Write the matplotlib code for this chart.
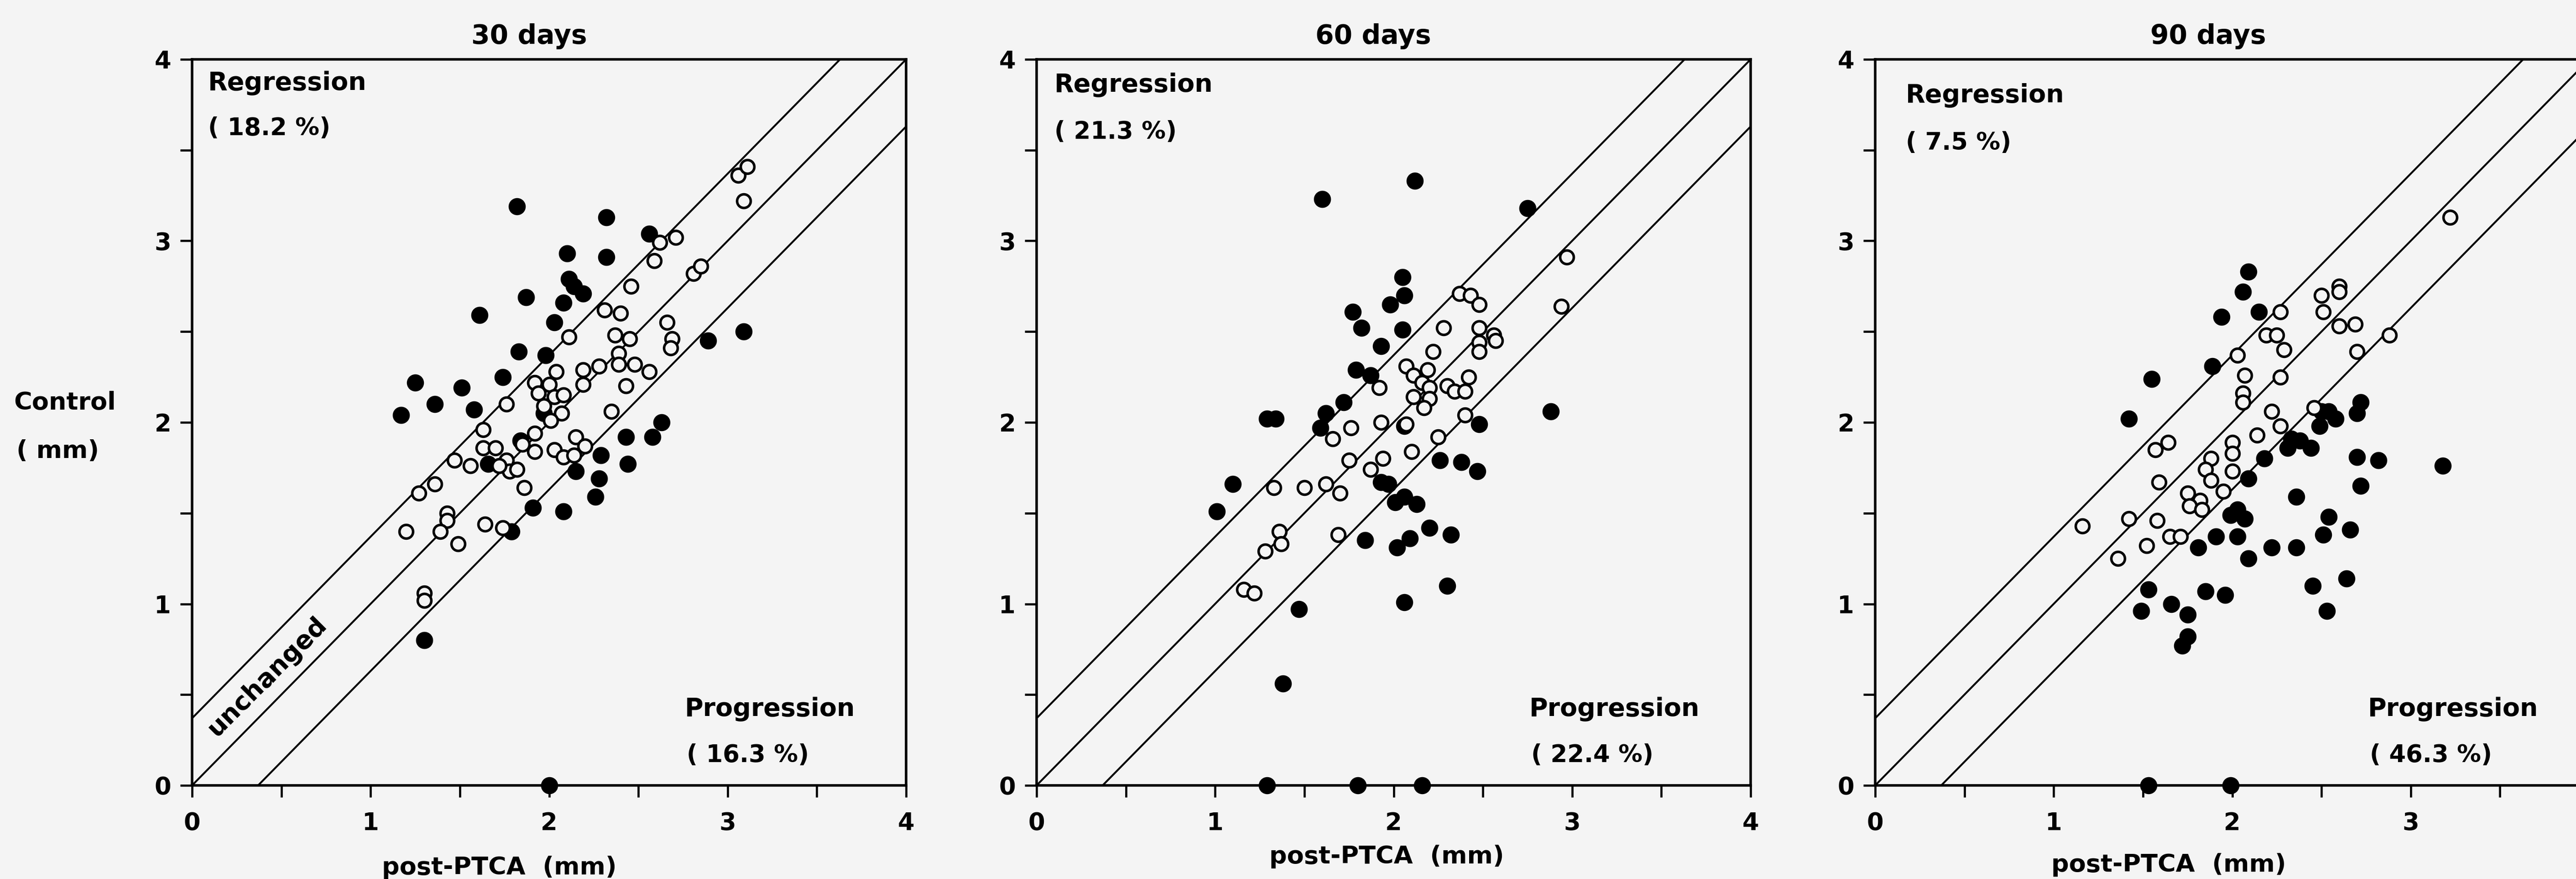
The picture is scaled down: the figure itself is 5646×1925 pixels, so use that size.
import numpy as np
import matplotlib
matplotlib.use("Agg")
import matplotlib.pyplot as plt
from matplotlib.ticker import MultipleLocator

# Control vs post-PTCA diameter (mm).
# filled = changed beyond the band, open = unchanged.
d30_fill_x = [1.82, 2.32, 2.56, 2.10, 2.32, 2.11, 2.14, 2.19, 1.87, 2.08, 1.61, 2.03,
              3.09, 2.89, 1.83, 1.98, 1.25, 1.74, 1.51, 1.36, 1.58, 1.17, 1.97, 2.63,
              2.43, 2.58, 1.84, 2.29, 1.66, 2.44, 2.15, 2.28, 2.26, 1.91, 2.08, 1.79,
              1.30, 2.00]
d30_fill_y = [3.19, 3.13, 3.04, 2.93, 2.91, 2.79, 2.75, 2.71, 2.69, 2.66, 2.59, 2.55,
              2.50, 2.45, 2.39, 2.37, 2.22, 2.25, 2.19, 2.10, 2.07, 2.04, 2.05, 2.00,
              1.92, 1.92, 1.90, 1.82, 1.77, 1.77, 1.73, 1.69, 1.59, 1.53, 1.51, 1.40,
              0.80, 0.00]
d30_open_x = [3.06, 3.11, 3.09, 2.62, 2.71, 2.59, 2.81, 2.85, 2.46, 2.31, 2.40, 2.11,
              2.66, 2.37, 2.45, 2.69, 2.68, 2.39, 2.39, 2.48, 2.56, 2.28, 2.19, 2.19,
              2.43, 2.04, 1.92, 2.00, 1.94, 2.03, 2.08, 1.97, 2.07, 2.01, 2.35, 1.76,
              1.63, 1.92, 2.15, 2.20, 1.85, 1.92, 2.03, 1.63, 1.70, 2.08, 2.14, 1.47,
              1.56, 1.76, 1.78, 1.82, 1.72, 1.36, 1.27, 1.86, 1.43, 1.43, 1.64, 1.74,
              1.39, 1.20, 1.49, 1.30, 1.30]
d30_open_y = [3.36, 3.41, 3.22, 2.99, 3.02, 2.89, 2.82, 2.86, 2.75, 2.62, 2.60, 2.47,
              2.55, 2.48, 2.46, 2.46, 2.41, 2.38, 2.32, 2.32, 2.28, 2.31, 2.29, 2.21,
              2.20, 2.28, 2.22, 2.21, 2.16, 2.14, 2.15, 2.09, 2.05, 2.01, 2.06, 2.10,
              1.96, 1.94, 1.92, 1.87, 1.88, 1.84, 1.85, 1.86, 1.86, 1.81, 1.82, 1.79,
              1.76, 1.79, 1.73, 1.74, 1.76, 1.66, 1.61, 1.64, 1.50, 1.46, 1.44, 1.42,
              1.40, 1.40, 1.33, 1.06, 1.02]

d60_fill_x = [2.12, 1.60, 2.75, 2.05, 2.06, 1.98, 1.77, 1.82, 2.05, 1.93, 1.79, 1.87,
              1.72, 1.29, 1.34, 1.62, 1.59, 2.88, 2.48, 2.06, 2.26, 2.38, 2.47, 1.10,
              1.93, 1.97, 2.01, 2.06, 2.13, 1.01, 2.20, 2.32, 1.84, 2.02, 2.09, 2.30,
              2.06, 1.47, 1.38, 1.29, 1.80, 2.16]
d60_fill_y = [3.33, 3.23, 3.18, 2.80, 2.70, 2.65, 2.61, 2.52, 2.51, 2.42, 2.29, 2.26,
              2.11, 2.02, 2.02, 2.05, 1.97, 2.06, 1.99, 1.98, 1.79, 1.78, 1.73, 1.66,
              1.67, 1.66, 1.56, 1.59, 1.55, 1.51, 1.42, 1.38, 1.35, 1.31, 1.36, 1.10,
              1.01, 0.97, 0.56, 0.00, 0.00, 0.00]
d60_open_x = [2.97, 2.94, 2.37, 2.43, 2.48, 2.28, 2.48, 2.56, 2.57, 2.48, 2.48, 2.22,
              2.07, 2.11, 2.19, 2.16, 2.20, 2.11, 2.20, 2.17, 1.92, 2.30, 2.34, 2.42,
              2.40, 2.40, 2.07, 1.93, 1.76, 1.66, 2.25, 2.10, 1.94, 1.75, 1.87, 1.33,
              1.50, 1.62, 1.70, 1.36, 1.37, 1.28, 1.69, 1.16, 1.22]
d60_open_y = [2.91, 2.64, 2.71, 2.70, 2.65, 2.52, 2.52, 2.48, 2.45, 2.44, 2.39, 2.39,
              2.31, 2.26, 2.29, 2.22, 2.19, 2.14, 2.13, 2.08, 2.19, 2.20, 2.17, 2.25,
              2.17, 2.04, 1.99, 2.00, 1.97, 1.91, 1.92, 1.84, 1.80, 1.79, 1.74, 1.64,
              1.64, 1.66, 1.61, 1.40, 1.33, 1.29, 1.38, 1.08, 1.06]

d90_fill_x = [2.09, 2.06, 2.15, 1.94, 1.89, 1.55, 1.42, 2.72, 2.70, 2.50, 2.54, 2.58,
              2.49, 2.33, 2.38, 2.44, 2.31, 2.70, 2.82, 3.18, 2.18, 2.09, 2.72, 2.36,
              2.54, 1.99, 2.03, 2.07, 2.66, 2.51, 2.03, 1.91, 2.22, 2.36, 1.81, 2.09,
              2.64, 2.45, 1.53, 1.85, 1.96, 1.66, 1.49, 1.75, 2.53, 1.75, 1.72, 1.53,
              1.99]
d90_fill_y = [2.83, 2.72, 2.61, 2.58, 2.31, 2.24, 2.02, 2.11, 2.05, 2.06, 2.06, 2.02,
              1.98, 1.91, 1.90, 1.86, 1.86, 1.81, 1.79, 1.76, 1.80, 1.69, 1.65, 1.59,
              1.48, 1.49, 1.52, 1.47, 1.41, 1.38, 1.37, 1.37, 1.31, 1.31, 1.31, 1.25,
              1.14, 1.10, 1.08, 1.07, 1.05, 1.00, 0.96, 0.94, 0.96, 0.82, 0.77, 0.00,
              0.00]
d90_open_x = [3.22, 2.60, 2.60, 2.50, 2.51, 2.27, 2.60, 2.69, 2.88, 2.19, 2.25, 2.29,
              2.70, 2.03, 2.07, 2.27, 2.06, 2.06, 2.22, 2.46, 2.27, 2.14, 2.00, 2.00,
              1.57, 1.64, 1.88, 1.85, 2.00, 1.88, 1.59, 1.95, 1.75, 1.82, 1.76, 1.83,
              1.16, 1.42, 1.58, 1.65, 1.71, 1.52, 1.36]
d90_open_y = [3.13, 2.75, 2.72, 2.70, 2.61, 2.61, 2.53, 2.54, 2.48, 2.48, 2.48, 2.40,
              2.39, 2.37, 2.26, 2.25, 2.16, 2.11, 2.06, 2.08, 1.98, 1.93, 1.89, 1.83,
              1.85, 1.89, 1.80, 1.74, 1.73, 1.68, 1.67, 1.62, 1.61, 1.57, 1.54, 1.52,
              1.43, 1.47, 1.46, 1.37, 1.37, 1.32, 1.25]

titles = ["30 days", "60 days", "90 days"]
regression_pct = ["( 18.2 %)", "( 21.3 %)", "( 7.5 %)"]
progression_pct = ["( 16.3 %)", "( 22.4 %)", "( 46.3 %)"]
band = 0.37          # half-width of the "unchanged" band (mm)
tick_labels = ["0", "1", "2", "3", "4"]

BG = "#f4f4f4"
FS = 40

plt.rcParams["font.family"] = "DejaVu Sans"
plt.rcParams["font.weight"] = "bold"

fig = plt.figure(figsize=(56.46, 19.25), dpi=100, facecolor=BG)

W, H = 5646, 1925
panel_left = [421, 2272, 4110]
panel_w, panel_h = 1565, 1590
panel_top = 130

series = [
    (d30_fill_x, d30_fill_y, d30_open_x, d30_open_y),
    (d60_fill_x, d60_fill_y, d60_open_x, d60_open_y),
    (d90_fill_x, d90_fill_y, d90_open_x, d90_open_y),
]
reg_pos = [(0.09, 3.87, 3.62), (0.10, 3.86, 3.60), (0.17, 3.80, 3.54)]
title_x = [1160, 3010, 4840]
xlabel_x = [1094, 3039, 4753]
xlabel_y = [1900, 1876, 1894]

for i, (fx, fy, ox, oy) in enumerate(series):
    ax = fig.add_axes([panel_left[i] / W, (H - panel_top - panel_h) / H,
                       panel_w / W, panel_h / H])
    ax.set_facecolor(BG)
    ax.set_xlim(0, 4)
    ax.set_ylim(0, 4)

    for off in (-band, 0.0, band):
        ax.axline((0, off), slope=1, color="black", lw=3.0, zorder=1)

    ax.plot(fx, fy, "o", color="black", ms=26, clip_on=False, zorder=3)
    ax.plot(ox, oy, "o", mfc=BG, mec="black", mew=4.0, ms=21.5,
            clip_on=False, zorder=4)

    for s in ax.spines.values():
        s.set_linewidth(4.0)

    ax.xaxis.set_minor_locator(MultipleLocator(0.5))
    ax.yaxis.set_minor_locator(MultipleLocator(0.5))
    # the last panel is cut by the page edge, so its "4" label is not shown
    nx = 5 if i < 2 else 4
    ax.set_xticks(range(nx), tick_labels[:nx])
    ax.set_yticks(range(5), tick_labels)
    ax.tick_params(which="both", direction="out", length=19, width=3.4,
                   color="black")
    ax.tick_params(axis="x", which="major", labelsize=FS - 2, pad=22)
    ax.tick_params(axis="y", which="major", labelsize=FS - 2, pad=14)

    rx, ry1, ry2 = reg_pos[i]
    ax.text(rx, ry1, "Regression", fontsize=FS, va="center", ha="left")
    ax.text(rx, ry2, regression_pct[i], fontsize=FS - 2, va="center", ha="left")
    ax.text(2.76, 0.42, "Progression", fontsize=FS, va="center", ha="left")
    ax.text(2.77, 0.165, progression_pct[i], fontsize=FS - 2, va="center", ha="left")

    if i == 0:
        ax.text(0.42, 0.60, "unchanged", fontsize=FS, rotation=45,
                rotation_mode="anchor", ha="center", va="center")

    fig.text(title_x[i] / W, 1 - 80 / H, titles[i], fontsize=FS + 2,
             ha="center", va="center")
    fig.text(xlabel_x[i] / W, 1 - xlabel_y[i] / H, "post-PTCA  (mm)",
             fontsize=FS - 1, ha="center", va="center")

fig.text(30 / W, 1 - 882 / H, "Control", fontsize=FS - 1, ha="left", va="center")
fig.text(36 / W, 1 - 988 / H, "( mm)", fontsize=FS - 1, ha="left", va="center")

fig.savefig("out.png", dpi=100, facecolor=BG)
